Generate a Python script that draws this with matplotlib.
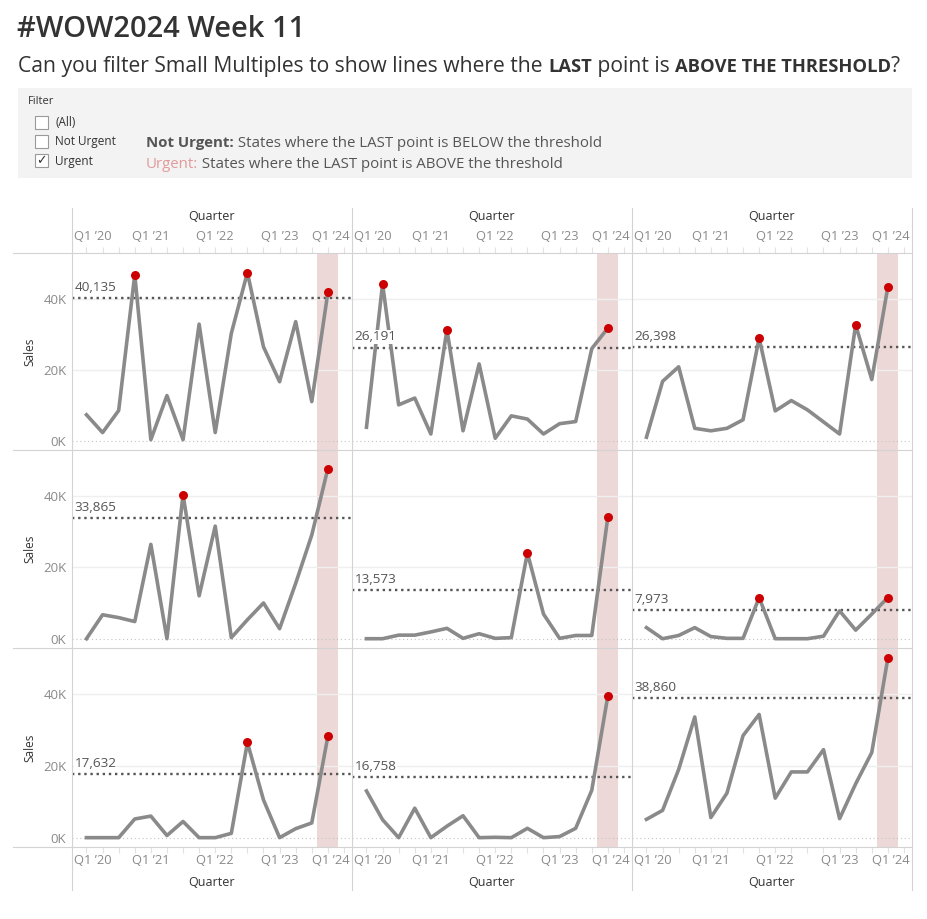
import matplotlib
matplotlib.use('Agg')
import matplotlib.pyplot as plt
from matplotlib.lines import Line2D
from matplotlib.patches import Rectangle
import numpy as np

# ---------------- data ----------------
quarter_ticks = ["Q1 \u201920", "Q1 \u201921", "Q1 \u201922", "Q1 \u201923", "Q1 \u201924"]
quarter_tick_pos = [0, 4, 8, 12, 16]
quarter_index = list(range(16))  # Q1'20 .. Q4'23

sales_1 = [7300, 2300, 8500, 46700, 300, 12700, 300, 32800, 2300, 30200, 47300, 26400, 16600, 33500, 11000, 41700]
sales_2 = [3800, 44100, 10100, 12000, 1900, 31200, 2800, 21600, 700, 7000, 6100, 1900, 4800, 5400, 25900, 31700]
sales_3 = [1000, 16700, 20800, 3500, 2800, 3500, 5900, 28900, 8400, 11300, 8700, 5300, 1900, 32600, 17200, 43300]
sales_4 = [0, 6700, 5900, 4800, 26400, 0, 40300, 12000, 31500, 300, 5300, 10000, 2800, 15500, 29000, 47600]
sales_5 = [0, 0, 1000, 1000, 1900, 2900, 100, 1400, 100, 300, 24000, 6900, 100, 900, 900, 34100]
sales_6 = [3100, 0, 900, 3100, 600, 100, 100, 11500, 0, 0, 0, 700, 7800, 2400, 6900, 11500]
sales_7 = [0, 0, 0, 5200, 6000, 600, 4500, 0, 0, 1200, 26500, 10500, 0, 2500, 4100, 28200]
sales_8 = [13000, 5000, 0, 8200, 0, 3200, 6100, 0, 100, 0, 2600, 0, 300, 2600, 13200, 39500]
sales_9 = [5100, 7600, 19000, 33600, 5600, 12400, 28400, 34300, 11000, 18300, 18300, 24500, 5300, 15000, 23700, 50000]
thresholds = [40135, 26191, 26398, 33865, 13573, 7973, 17632, 16758, 38860]
series = [sales_1, sales_2, sales_3, sales_4, sales_5, sales_6, sales_7, sales_8, sales_9]
y_ticks = [0, 20000, 40000]
y_tick_labels = ["0K", "20K", "40K"]

# ---------------- figure ----------------
W, H = 927, 919
plt.rcParams['font.family'] = ['Open Sans', 'DejaVu Sans']
fig = plt.figure(figsize=(W / 100, H / 100), dpi=100)
fig.patch.set_facecolor('white')


def fx(x):
    return x / W


def fy(y):
    return 1 - y / H


renderer = fig.canvas.get_renderer()


def seq_text(x, y, parts):
    for s, kw in parts:
        t = fig.text(fx(x), fy(y), s, va='baseline', ha='left', **kw)
        bb = t.get_window_extent(renderer)
        x += bb.width
    return x


# title & subtitle
fig.text(fx(17), fy(37), "#WOW2024 Week 11", fontsize=21, fontweight='semibold',
         color='#333333', va='baseline')
seq_text(18, 72, [
    ("Can you filter Small Multiples to show lines where the ", dict(fontsize=15.2, color='#333333')),
    ("LAST", dict(fontsize=13.2, color='#333333', fontweight='bold')),
    (" point is ", dict(fontsize=15.2, color='#333333')),
    ("ABOVE THE THRESHOLD", dict(fontsize=13.2, color='#333333', fontweight='bold')),
    ("?", dict(fontsize=15.2, color='#333333')),
])

# filter box
fig.patches.append(Rectangle((fx(18), fy(178)), (912 - 18) / W, (178 - 88) / H,
                             transform=fig.transFigure, facecolor='#f3f3f3', edgecolor='none', zorder=0))
fig.text(fx(28), fy(101), "Filter", fontsize=8, color='#333333', va='center')
for yb, lab in [(116, "(All)"), (135, "Not Urgent"), (154, "Urgent")]:
    fig.patches.append(Rectangle((fx(35), fy(yb + 13)), 13 / W, 13 / H, transform=fig.transFigure,
                                 facecolor='white', edgecolor='#9a9a9a', lw=0.8, zorder=1))
    fig.text(fx(55), fy(yb + 7), lab, fontsize=8.5, color='#333333', va='center')
fig.text(fx(41.5), fy(161), "\u2713", fontsize=9, color='#333333', va='center', ha='center',
         family=['DejaVu Sans'])
seq_text(146, 147, [
    ("Not Urgent:", dict(fontsize=10.8, color='#555555', fontweight='bold')),
    (" States where the LAST point is BELOW the threshold", dict(fontsize=10.8, color='#555555')),
])
seq_text(146, 168, [
    ("Urgent:", dict(fontsize=10.8, color='#e39a9a')),
    (" States where the LAST point is ABOVE the threshold", dict(fontsize=10.8, color='#555555')),
])

# grid of panels
lefts = [72, 352, 632]
rights = [352, 632, 912]
tops = [253, 450, 648]
bottoms = [450, 648, 847]
xmin, xmax = -0.9, 16.5
ymin, ymax = -2600, 52800

axes = []
for r in range(3):
    for c in range(3):
        k = r * 3 + c
        L, R, T, B = lefts[c], rights[c], tops[r], bottoms[r]
        ax = fig.add_axes([fx(L), fy(B), (R - L) / W, (B - T) / H])
        ax.set_xlim(xmin, xmax)
        ax.set_ylim(ymin, ymax)
        for s in ax.spines.values():
            s.set_visible(False)
        vals = np.array(series[k])
        thr = thresholds[k]
        xs = np.array(quarter_index)
        ax.axvspan(xs[-1] - 0.66, xs[-1] + 0.66, color='#edd8d8', lw=0, zorder=0)
        for g in y_ticks[1:]:
            ax.axhline(g, color='#efefef', lw=1.0, zorder=0.5)
        ax.axhline(0, color='#c4c4c4', lw=0.8, ls=(0, (1, 2.5)), zorder=0.6)
        ax.axhline(thr, color='#555555', lw=1.7, ls=(0, (1, 1.6)), zorder=2)
        ax.plot(xs, vals, color='#8a8a8a', lw=2.6, solid_joinstyle='round', zorder=3)
        m = vals > thr
        ax.scatter(xs[m], vals[m], s=42, color='#cc0000', lw=0, zorder=4)
        ax.annotate(f"{thr:,}", xy=(xmin, thr), xytext=(2, 3), textcoords='offset points',
                    va='bottom', ha='left', fontsize=9.7, color='#555555', zorder=5,
                    bbox=dict(boxstyle='square,pad=0.05', fc='white', ec='none'))
        ax.set_yticks(y_ticks)
        if c == 0:
            ax.set_yticklabels(y_tick_labels)
            ax.tick_params(axis='y', length=0, pad=4, labelsize=9.5, labelcolor='#8a8a8a')
        else:
            ax.tick_params(axis='y', length=0, labelleft=False)
        ax.set_xticks(range(17))
        if r == 0:
            ax.tick_params(axis='x', top=True, bottom=False, labeltop=False, labelbottom=False,
                           length=4, color='#e2e2e2', width=0.8)
        elif r == 2:
            ax.tick_params(axis='x', top=False, bottom=True, labeltop=False, labelbottom=False,
                           length=4, color='#e2e2e2', width=0.8)
        else:
            ax.tick_params(axis='x', length=0, labelbottom=False)
        axes.append(ax)

# frame lines
line_kw = dict(color='#d3d3d3', lw=0.8, transform=fig.transFigure, zorder=0.2)
for y in [253, 450, 648, 847]:
    fig.lines.append(Line2D([fx(13), fx(912)], [fy(y), fy(y)], **line_kw))
for x in [72, 352, 632, 912]:
    fig.lines.append(Line2D([fx(x), fx(x)], [fy(208), fy(890)], **line_kw))

# axis headers / footers
for c in range(3):
    cx = (lefts[c] + rights[c]) / 2
    fig.text(fx(cx), fy(216), "Quarter", fontsize=9, color='#333333', ha='center', va='center')
    fig.text(fx(cx), fy(883), "Quarter", fontsize=9, color='#333333', ha='center', va='center')
for r in range(3):
    cy = (tops[r] + bottoms[r]) / 2
    fig.text(fx(30), fy(cy), "Sales", fontsize=8.5, color='#333333', ha='center', va='center',
             rotation=90)

# quarter tick labels, kept inside each panel like the original
for c in range(3):
    for r, ypx in [(0, 237), (2, 860)]:
        ax = axes[r * 3 + c]
        for pos, lab in zip(quarter_tick_pos, quarter_ticks):
            xd = ax.transData.transform((pos, 0))[0]
            t = fig.text(xd / W, fy(ypx), lab, fontsize=9.3, color='#8a8a8a', ha='center', va='center')
            bb = t.get_window_extent(renderer)
            lo, hi = lefts[c] + 2, rights[c] - 2
            if bb.x0 < lo:
                t.set_x((xd + (lo - bb.x0)) / W)
            elif bb.x1 > hi:
                t.set_x((xd - (bb.x1 - hi)) / W)

fig.savefig('out.png', dpi=100, facecolor='white')
